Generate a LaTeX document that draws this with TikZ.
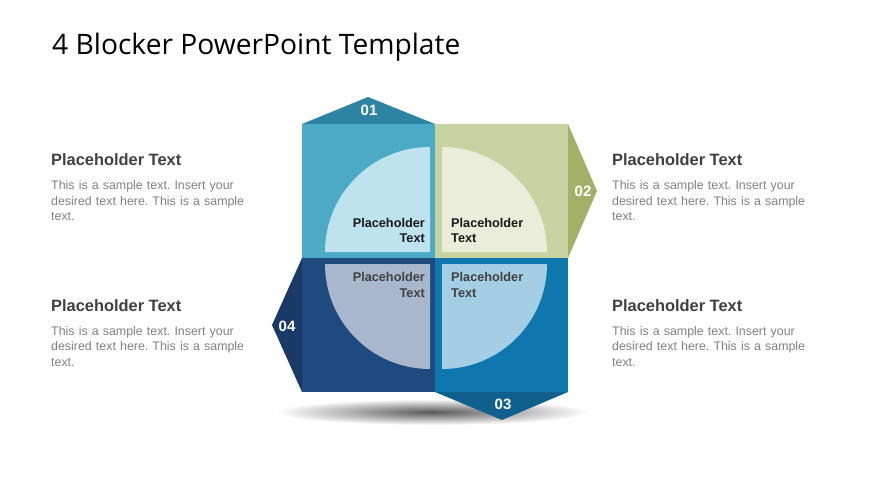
\documentclass[tikz,border=0pt]{standalone}
\usepackage{fontspec}
\setmainfont{Liberation Sans}
\newfontfamily\titlefont{Open Sans}
\usetikzlibrary{calc, shadings}

\definecolor{tlblock}{HTML}{4BAAC6}
\definecolor{tltab}{HTML}{2D84A2}
\definecolor{tlarc}{HTML}{BEE2EE}
\definecolor{trblock}{HTML}{C8D3A2}
\definecolor{trtab}{HTML}{A4B068}
\definecolor{trarc}{HTML}{E9EDD9}
\definecolor{blblock}{HTML}{1F4A80}
\definecolor{bltab}{HTML}{193A66}
\definecolor{blarc}{HTML}{A8B7CC}
\definecolor{brblock}{HTML}{0E78AE}
\definecolor{brtab}{HTML}{10608D}
\definecolor{brarc}{HTML}{A4CEE3}
\definecolor{headgray}{HTML}{404040}
\definecolor{bodygray}{HTML}{808080}

\begin{document}
\frenchspacing
\begin{tikzpicture}[x=1pt, y=-1pt,
	heading/.style={anchor=base west, inner sep=0pt, text=headgray, font=\bfseries\fontsize{16.4}{19}\selectfont},
	bodytext/.style={anchor=base west, inner sep=0pt, text=bodygray, text width=200pt, align=left, font=\fontsize{12.4}{15.5}\selectfont},
	number/.style={inner sep=0pt, text=white, font=\bfseries\fontsize{15}{17}\selectfont},
	label/.style={inner sep=0pt, font=\bfseries\fontsize{12.7}{15.5}\selectfont}]
	\useasboundingbox (0,0) rectangle (870,489);

	\coordinate (tl) at (302,124);
	\coordinate (mid) at (435,258);
	\coordinate (br) at (568,392);

	% shadow
	\shade[inner color=black!65, outer color=white] (432,412) ellipse (156 and 13);

	% blocks
	\fill[tlblock] (tl) rectangle (mid);
	\fill[tltab] (tl) -- (368,97) -- (mid |- tl) -- cycle;
	\fill[trblock] (mid |- tl) rectangle (br |- mid);
	\fill[trtab] (br |- tl) -- (597,191) -- (br |- mid) -- cycle;
	\fill[blblock] (tl |- mid) rectangle (mid |- br);
	\fill[bltab] (tl |- mid) -- (272,325) -- (tl |- br) -- cycle;
	\fill[brblock] (mid) rectangle (br);
	\fill[brtab] (mid |- br) -- (502,420) -- (br) -- cycle;

	% quarter circles
	\fill[tlarc] (430,252) -- (325,252) arc[start angle=180, end angle=270, radius=105] -- cycle;
	\fill[trarc] (442,252) -- (442,147) arc[start angle=270, end angle=360, radius=105] -- cycle;
	\fill[blarc] (430,264) -- (325,264) arc[start angle=180, end angle=90, radius=105] -- cycle;
	\fill[brarc] (442,264) -- (547,264) arc[start angle=0, end angle=90, radius=105] -- cycle;

	\node[number] (n01) at (369,110) {01};
	\node[number] (n02) at (583,191) {02};
	\node[number] (n03) at (503,404) {03};
	\node[number] (n04) at (287,326) {04};

	% base of a two-line label is its last line
	\node[label, text=black!90, anchor=base east, align=right] (tltext) at (425,243) {Placeholder\\Text};
	\node[label, text=black!90, anchor=base west, align=left] (trtext) at (451,243) {Placeholder\\Text};
	\node[label, text=headgray, anchor=base east, align=right] (bltext) at (425,297) {Placeholder\\Text};
	\node[label, text=headgray, anchor=base west, align=left] (brtext) at (451,297) {Placeholder\\Text};

	\node[anchor=base west, inner sep=0pt, font=\titlefont\fontsize{28.2}{34}\selectfont] (title) at (52,55) {4 Blocker PowerPoint Template};

	\node[heading] (head1) at (51,166) {Placeholder Text};
	\node[bodytext] (body1) at (51,190) {This is a sample text. Insert your desired text here. This is a sample text.};
	\node[heading] (head2) at (612,166) {Placeholder Text};
	\node[bodytext] (body2) at (612,190) {This is a sample text. Insert your desired text here. This is a sample text.};
	\node[heading] (head3) at (51,311) {Placeholder Text};
	\node[bodytext] (body3) at (51,335) {This is a sample text. Insert your desired text here. This is a sample text.};
	\node[heading] (head4) at (612,311) {Placeholder Text};
	\node[bodytext] (body4) at (612,335) {This is a sample text. Insert your desired text here. This is a sample text.};
\end{tikzpicture}
\end{document}
